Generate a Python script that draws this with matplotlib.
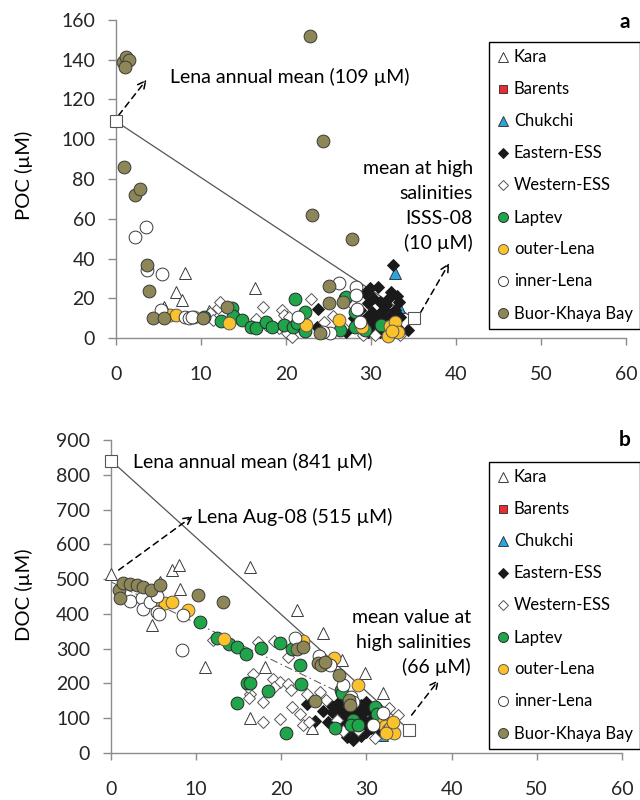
import matplotlib.pyplot as plt

plt.rcParams['font.family'] = ['Lato', 'DejaVu Sans']
plt.rcParams['font.size'] = 13

series = ['Kara', 'Barents', 'Chukchi', 'Eastern-ESS', 'Western-ESS',
          'Laptev', 'outer-Lena', 'inner-Lena', 'Buor-Khaya Bay']

# ---- panel a: salinity vs POC (uM)
poc_kara_x = [5.6, 7.1, 7.8, 8.1, 10.9, 16.3]
poc_kara_y = [15.5, 23, 19, 32.5, 13.5, 25.3]
poc_barents_x = []
poc_barents_y = []
poc_chukchi_x = [33.3, 32.8]
poc_chukchi_y = [15.5, 32.5]
poc_eess_x = [32.6, 30.8, 32.4, 33.3, 23.8, 23.6, 29.3, 29.7, 30.1, 30.5, 31.1, 31.8, 32.8,
              33.4, 34.4, 29.5, 29.7, 28.7, 27.1, 31.1, 33.0, 30.0, 28.3, 31.5, 32.2,
              30.2, 31.0, 32.0, 29.0, 30.8, 32.0, 28.0, 31.5, 33.0, 29.9]
poc_eess_y = [36.7, 25.6, 23.3, 18.3, 14.5, 5.7, 22.5, 17.5, 13.2, 9, 12.4, 16.6, 14,
              10.7, 4, 10.7, 3.2, 14, 3.2, 3.2, 5.7, 6, 6.5, 8.5, 11,
              20, 18, 19.5, 8, 4.5, 2.5, 10, 14.5, 21, 25]
poc_wess_x = [11.1, 11.4, 12.0, 12.2, 13.8, 16.5, 17.3, 17.7, 19.2, 19.5, 19.8, 20.1, 20.7,
              21.6, 22.9, 20.3, 27.7, 26.7, 29.1, 33.4, 24.5, 25.5, 30.5]
poc_wess_y = [12.4, 9, 15, 18.3, 9, 9.5, 15.8, 6.5, 4.9, 14, 11.6, 2.3, 0.7,
              5.7, 19.5, 10.7, 17.5, 5.7, 1.5, 1.5, 8, 11, 1.5]
poc_laptev_x = [10.3, 12.4, 13.7, 13.8, 14.8, 15.9, 16.5, 17.6, 18.4, 19.8, 20.8, 21.1, 21.3,
                22.2, 22.2, 26.9, 26.3, 27.1, 28.1, 28.1, 29.3, 31.2]
poc_laptev_y = [10.7, 8.7, 15, 11, 9, 5.7, 4.9, 8.2, 5.7, 6.5, 5.7, 19.5, 7.7,
                13, 3.5, 20, 4, 20.8, 13.2, 5.7, 4, 6.5]
poc_outer_x = [6.4, 7.1, 9.2, 13.3, 22.4, 26.2, 28.9, 32.2, 32.8, 33.2, 32.0, 32.5]
poc_outer_y = [11.6, 11.6, 10.7, 7.4, 6.7, 9, 5.4, 6, 8.2, 3.2, 1, 3.7]
poc_inner_x = [2.2, 3.5, 3.7, 5.4, 5.3, 8.1, 8.6, 8.9, 21.4, 26.2, 28.2, 28.2, 28.3, 25.2,
               28.7, 24.3]
poc_inner_y = [51, 56, 34, 32, 14, 10.7, 10, 10.4, 10.7, 27.5, 25.5, 21.6, 14.4, 2.5,
               8.2, 3]
poc_buor_x = [0.8, 1.2, 1.5, 1.0, 0.9, 2.2, 2.8, 3.7, 3.9, 4.4, 5.6, 10.2, 13.0, 22.8, 23.0,
              24.4, 27.8, 25.0, 25.0, 26.7, 24.0]
poc_buor_y = [139, 141.5, 140, 136.5, 86, 72, 75, 36.5, 23.8, 10, 10, 10, 15.7, 152, 62,
              99, 50, 26, 17.6, 18, 2.5]
poc_end_x = [0, 35]
poc_end_y = [109, 10]

# ---- panel b: salinity vs DOC (uM)
doc_kara_x = [4.8, 5.75, 7.2, 8.0, 8.1, 11.0, 16.3, 16.3, 18.1, 21.8, 23.6, 24.9, 27.1,
              29.8, 31.9]
doc_kara_y = [368, 492, 525, 542, 473, 248, 536, 100, 248, 411, 71, 344, 267, 229, 173]
doc_barents_x = []
doc_barents_y = []
doc_chukchi_x = [30.4, 31.8]
doc_chukchi_y = [104, 52]
doc_eess_x = [23.0, 23.9, 24.9, 25.9, 26.1, 27.3, 26.9, 27.7, 28.4, 29.6, 30.0, 29.2, 30.4,
              29.4, 28.4, 31.2, 31.8, 25.9, 25.5, 30.0, 28.1, 30.0, 28.8, 27.5, 29.0, 30.8,
              27.0, 28.0, 29.0, 29.8, 30.6, 31.0, 28.6, 27.8, 26.5, 28.0, 29.3, 30.5, 31.5]
doc_eess_y = [141, 92, 122, 136, 133, 152, 85, 45, 37, 95, 61, 114, 133, 138, 143, 61, 71,
              119, 90, 85, 112, 148, 125, 100, 70, 100, 120, 130, 100, 120, 118, 80, 60, 75,
              140, 95, 50, 72, 90]
doc_wess_x = [12.0, 17.3, 19.2, 20.8, 16.7, 19.0, 19.9, 20.8, 21.1, 16.3, 16.1, 17.9, 19.2,
              21.2, 22.2, 22.6, 19.8, 17.9, 23.0, 23.2, 25.3, 26.5, 27.3, 31.0, 32.7, 33.7,
              29.0, 24.5, 16.2]
doc_wess_y = [325, 320, 323, 276, 226, 213, 203, 198, 181, 170, 190, 148, 191, 131, 112, 80,
              98, 90, 170, 90, 152, 95, 64, 42, 128, 109, 66, 176, 157]
doc_laptev_x = [10.5, 12.4, 13.9, 14.8, 15.9, 17.6, 19.8, 21.2, 22.2, 16.0, 16.3, 18.4, 22.3,
                14.8, 20.6, 27.0, 27.1, 26.3, 28.4, 28.2, 29.0, 31.0, 31.2]
doc_laptev_y = [378, 330, 313, 306, 286, 301, 315, 299, 253, 200, 200, 178, 197, 144, 58,
                181, 172, 71, 95, 80, 80, 133, 112]
doc_outer_x = [5.0, 6.3, 7.2, 9.1, 13.3, 22.5, 26.2, 29.0, 31.9, 32.2, 32.5, 32.8, 33.2,
               32.3, 33.1]
doc_outer_y = [440, 432, 435, 411, 328, 322, 273, 196, 85, 78, 66, 72, 57, 58, 88]
doc_inner_x = [2.2, 3.6, 3.8, 4.6, 5.4, 5.4, 5.6, 8.3, 8.5, 21.6, 24.4, 25.7, 27.3, 28.2,
               28.4, 30.8, 32.0]
doc_inner_y = [438, 445, 414, 435, 452, 406, 401, 296, 397, 332, 280, 253, 196, 160, 148,
               80, 114]
doc_buor_x = [0.9, 1.1, 1.4, 2.2, 3.0, 3.8, 4.7, 5.7, 10.2, 13.1, 21.8, 22.6, 24.3, 24.7,
              25.1, 26.8, 24.0, 27.9, 28.1]
doc_buor_y = [469, 445, 488, 487, 484, 476, 469, 482, 455, 435, 298, 306, 258, 253, 262,
              225, 150, 153, 138]
doc_end_x = [0, 35]
doc_end_y = [841, 66]
doc_aug_x = [0]
doc_aug_y = [515]
doc_mix_x = [0, 28]
doc_mix_y = [492, 160]

styles = {
    'Kara': dict(marker='^', mfc='white', mec='#3a3a3a', ms=9.2),
    'Barents': dict(marker='s', mfc='#ee2b2f', mec='#3a3a3a', ms=8),
    'Chukchi': dict(marker='^', mfc='#27a6df', mec='#3a3a3a', ms=9.2),
    'Eastern-ESS': dict(marker='D', mfc='#1a1a1a', mec='#1a1a1a', ms=6.3),
    'Western-ESS': dict(marker='D', mfc='white', mec='#555555', ms=6.3),
    'Laptev': dict(marker='o', mfc='#1fa64b', mec='#2b2b2b', ms=9.2),
    'outer-Lena': dict(marker='o', mfc='#fbc22c', mec='#5a5a5a', ms=9.2),
    'inner-Lena': dict(marker='o', mfc='white', mec='#3a3a3a', ms=9.2),
    'Buor-Khaya Bay': dict(marker='o', mfc='#8d8657', mec='#3a3a3a', ms=9.2),
}

fig = plt.figure(figsize=(6.4, 8), dpi=100)
ax1 = fig.add_axes([0.18125, 0.5775, 0.796875, 0.3975])
ax2 = fig.add_axes([0.1734, 0.05875, 0.7984, 0.39125])


def style_axis(ax, ymax, ystep):
    ax.set_xlim(0, 60)
    ax.set_ylim(0, ymax)
    ax.set_xticks(range(0, 61, 10))
    ax.set_yticks(range(0, ymax + 1, ystep))
    for s in ['top', 'right']:
        ax.spines[s].set_visible(False)
    for s in ['left', 'bottom']:
        ax.spines[s].set_color('#8c8c8c')
        ax.spines[s].set_linewidth(1)
    ax.tick_params(axis='y', length=6, width=1, color='#8c8c8c', pad=9,
                   labelcolor='#262626', labelsize=14)
    ax.tick_params(axis='x', length=5, width=1, color='#8c8c8c', pad=15,
                   labelcolor='#262626', labelsize=14)


def draw_points(ax, xs, ys):
    for name, x, y in zip(series, xs, ys):
        ax.plot(x, y, ls='none', mew=0.7, clip_on=False, label=name, zorder=3,
                **styles[name])


def add_legend(ax, top):
    leg = ax.legend(loc='upper left', bbox_to_anchor=(0.764, top),
                    bbox_transform=fig.transFigure, fancybox=False, edgecolor='black',
                    framealpha=1, fontsize=12, handlelength=0.8, handletextpad=0.25,
                    labelspacing=0.96, borderpad=0.45, borderaxespad=0, markerscale=0.78)
    leg.get_frame().set_linewidth(1)


def arrow(ax, start, end):
    ax.annotate('', xy=end, xytext=start,
                arrowprops=dict(arrowstyle='->', ls=(0, (4, 3)), color='black', lw=1.1,
                                shrinkA=0, shrinkB=0, mutation_scale=14))


# panel a
style_axis(ax1, 160, 20)
ax1.plot(poc_end_x, poc_end_y, color='#555555', lw=0.9, zorder=2)
draw_points(ax1, [poc_kara_x, poc_barents_x, poc_chukchi_x, poc_eess_x, poc_wess_x,
                  poc_laptev_x, poc_outer_x, poc_inner_x, poc_buor_x],
            [poc_kara_y, poc_barents_y, poc_chukchi_y, poc_eess_y, poc_wess_y,
             poc_laptev_y, poc_outer_y, poc_inner_y, poc_buor_y])
ax1.plot(poc_end_x, poc_end_y, ls='none', marker='s', ms=8.5, mfc='white', mec='#555555',
         mew=0.8, clip_on=False, zorder=4)
ax1.set_ylabel('POC (µM)', fontsize=14.5)
ax1.yaxis.set_label_coords(-0.163, 0.51)
ax1.text(6.35, 131.3, 'Lena annual mean (109 µM)', ha='left', va='center', fontsize=14)
arrow(ax1, (0.3, 112), (3.6, 130))
for i, line in enumerate(['mean at high', 'salinities', 'ISSS-08', '(10 µM)']):
    ax1.text(42, 85.5 - i * 12.6, line, ha='right', va='center', fontsize=14)
arrow(ax1, (35.8, 12.6), (39.2, 37.7))
ax1.text(0.985, 0.972, 'a', transform=fig.transFigure, ha='right', va='center',
         fontsize=15, fontweight='bold')
add_legend(ax1, 0.9475)

# panel b
style_axis(ax2, 900, 100)
ax2.plot(doc_end_x, doc_end_y, color='#555555', lw=0.9, zorder=2)
ax2.plot(doc_mix_x, doc_mix_y, color='#666666', lw=0.8, ls=(0, (7, 3, 1.5, 3)), zorder=2)
draw_points(ax2, [doc_kara_x, doc_barents_x, doc_chukchi_x, doc_eess_x, doc_wess_x,
                  doc_laptev_x, doc_outer_x, doc_inner_x, doc_buor_x],
            [doc_kara_y, doc_barents_y, doc_chukchi_y, doc_eess_y, doc_wess_y,
             doc_laptev_y, doc_outer_y, doc_inner_y, doc_buor_y])
ax2.plot(doc_aug_x, doc_aug_y, ls='none', clip_on=False, mew=0.7, zorder=4,
         **styles['Kara'])
ax2.plot(doc_end_x, doc_end_y, ls='none', marker='s', ms=8.5, mfc='white', mec='#555555',
         mew=0.8, clip_on=False, zorder=4)
ax2.set_ylabel('DOC (µM)', fontsize=14.5)
ax2.yaxis.set_label_coords(-0.153, 0.505)
ax2.text(2.6, 837, 'Lena annual mean (841 µM)', ha='left', va='center', fontsize=14)
ax2.text(10.1, 679, 'Lena Aug-08 (515 µM)', ha='left', va='center', fontsize=14)
arrow(ax2, (0.9, 526), (9.6, 681))
for i, line in enumerate(['mean value at', 'high salinities', '(66 µM)']):
    ax2.text(42.25, 391 - i * 72, line, ha='right', va='center', fontsize=14)
arrow(ax2, (35.3, 109), (38.5, 210))
ax2.text(0.985, 0.45, 'b', transform=fig.transFigure, ha='right', va='center',
         fontsize=15, fontweight='bold')
add_legend(ax2, 0.4225)

fig.savefig('out.png', dpi=100)
